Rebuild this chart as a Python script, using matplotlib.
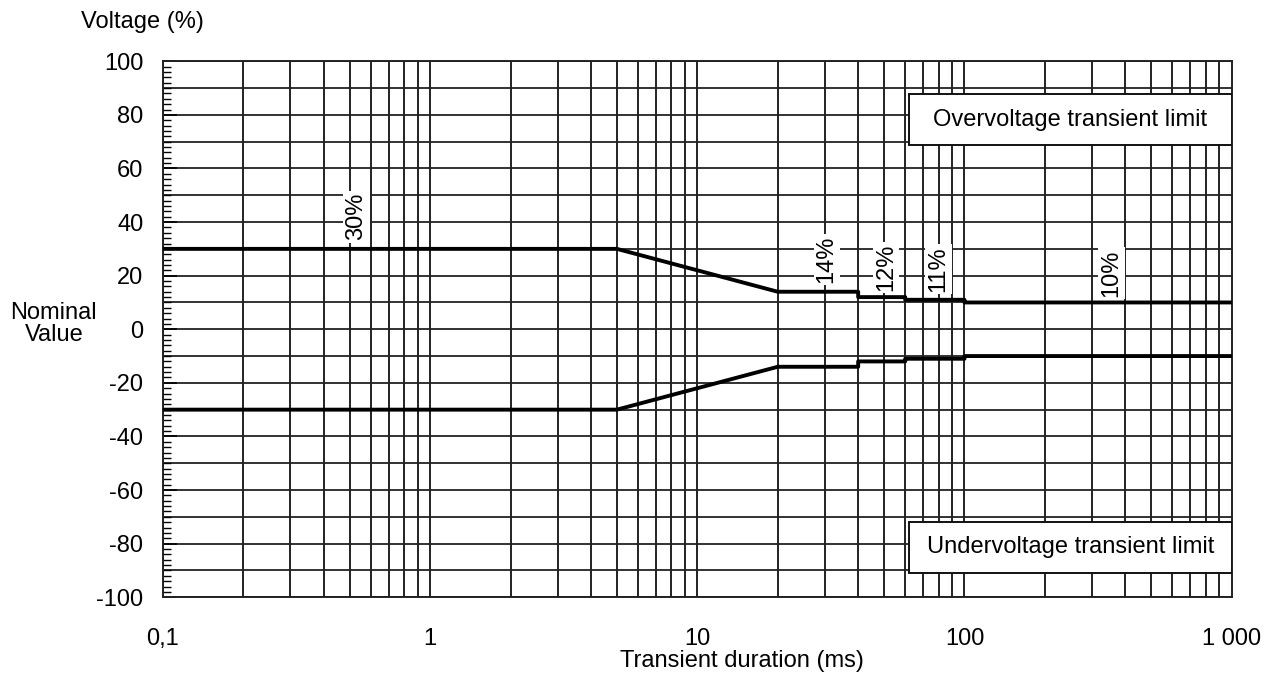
import matplotlib.pyplot as plt
import matplotlib.ticker as mticker
from matplotlib.patches import Rectangle

plt.rcParams['font.family'] = ['Liberation Sans', 'DejaVu Sans']
plt.rcParams['axes.unicode_minus'] = False

# Transient limits (duration in ms, voltage deviation in %)
duration = [0.1, 5, 20, 40, 40, 60, 60, 100, 100, 1000]
over_limit = [30, 30, 14, 14, 12, 12, 11, 11, 10, 10]
under_limit = [-30, -30, -14, -14, -12, -12, -11, -11, -10, -10]

# Percentage labels along the upper curve
label_text = ['30%', '14%', '12%', '11%', '10%']
label_x = [0.53, 30.5, 51, 80, 355]
label_y = [42, 26, 23, 22.5, 21]

x_ticks = [0.1, 1, 10, 100, 1000]
x_ticklabels = ['0,1', '1', '10', '100', '1 000']
y_ticks = list(range(-100, 101, 20))

FS = 17

fig = plt.figure(figsize=(12.83, 6.81), dpi=100)
ax = fig.add_axes([0.127, 0.123, 0.833, 0.787])

ax.set_xscale('log')
ax.set_xlim(0.1, 1000)
ax.set_ylim(-100, 100)

# grid: every integer per decade and every 10 %
for dec in [0.1, 1, 10, 100]:
    for k in range(1, 10):
        ax.axvline(dec * k, color='#222222', lw=1.4, zorder=1)
for v in range(-100, 101, 10):
    ax.axhline(v, color='#222222', lw=1.3, zorder=1)

ax.plot(duration, over_limit, color='black', lw=2.8, zorder=3)
ax.plot(duration, under_limit, color='black', lw=2.8, zorder=3)

for t, x, y in zip(label_text, label_x, label_y):
    ax.text(x, y, t, rotation=90, ha='center', va='center', fontsize=FS,
            bbox=dict(facecolor='white', edgecolor='none', pad=1.5), zorder=4)

# legend-like boxes
for y0, txt in [(0.843, 'Overvoltage transient limit'),
                (0.045, 'Undervoltage transient limit')]:
    ax.add_patch(Rectangle((0.698, y0), 0.302, 0.096, transform=ax.transAxes,
                           facecolor='white', edgecolor='#111111', lw=1.4,
                           zorder=5))
    ax.text(0.849, y0 + 0.048, txt, transform=ax.transAxes, ha='center',
            va='center', fontsize=FS, zorder=6)

ax.set_xticks(x_ticks)
ax.set_xticklabels(x_ticklabels)
ax.xaxis.set_minor_locator(mticker.NullLocator())
ax.set_yticks(y_ticks)
ax.yaxis.set_minor_locator(mticker.MultipleLocator(2))
ax.tick_params(axis='x', length=0, pad=22, labelsize=FS)
ax.tick_params(axis='y', which='major', direction='in', length=10, width=1.2,
               pad=14, labelsize=FS)
ax.tick_params(axis='y', which='minor', direction='in', length=6, width=1.0)

for s in ax.spines.values():
    s.set_linewidth(1.4)
    s.set_color('#222222')

fig.text(0.578, 0.030, 'Transient duration (ms)', ha='center', va='center',
         fontsize=FS)
fig.text(0.111, 0.967, 'Voltage (%)', ha='center', va='center', fontsize=FS)
fig.text(0.042, 0.524, 'Nominal\nValue', ha='center', va='center', fontsize=FS,
         linespacing=1.0)

fig.savefig('out.png', dpi=100)
